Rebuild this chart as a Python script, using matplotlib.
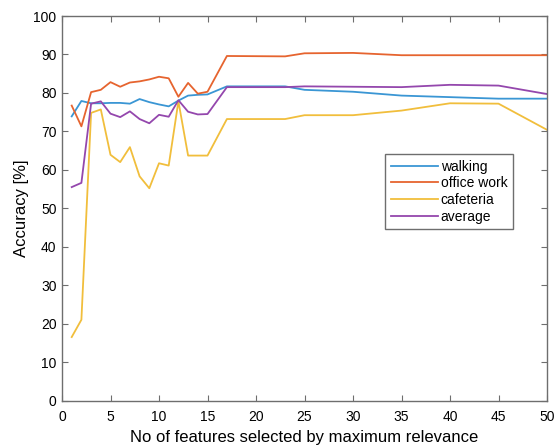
import matplotlib
matplotlib.use("Agg")
import matplotlib.pyplot as plt

plt.rcParams['font.family'] = ['Liberation Sans', 'DejaVu Sans']

# number of selected features
n_features = [1, 2, 3, 4, 5, 6, 7, 8, 9, 10, 11, 12, 13, 14, 15,
              17, 23, 25, 30, 35, 40, 45, 50]

walking = [73.9, 77.9, 77.3, 77.3, 77.4, 77.4, 77.2, 78.4, 77.6, 77.0, 76.5, 78.0,
           79.3, 79.5, 79.6, 81.7, 81.7, 80.8, 80.3, 79.3, 78.9, 78.5, 78.5]
office = [76.7, 71.3, 80.2, 80.8, 82.8, 81.6, 82.7, 83.0, 83.5, 84.2, 83.8, 79.0,
          82.6, 79.8, 80.3, 89.6, 89.5, 90.3, 90.4, 89.8, 89.8, 89.8, 89.8]
cafeteria = [16.5, 21.0, 74.8, 75.7, 63.9, 62.0, 65.9, 58.3, 55.2, 61.7, 61.1, 77.8,
             63.7, 63.7, 63.7, 73.2, 73.2, 74.2, 74.2, 75.4, 77.3, 77.2, 70.4]
average = [55.5, 56.6, 77.2, 77.8, 74.6, 73.7, 75.2, 73.2, 72.1, 74.3, 73.8, 78.1,
           75.1, 74.4, 74.5, 81.5, 81.5, 81.7, 81.6, 81.5, 82.1, 81.9, 79.7]

series = [("walking", walking, '#3a96d4'),
          ("office work", office, '#e6642f'),
          ("cafeteria", cafeteria, '#f1be3c'),
          ("average", average, '#9447ad')]

fig = plt.figure(figsize=(5.54, 4.46), dpi=100)
ax = fig.add_axes([62/554, 45.5/446, 485/554, 384.5/446])

for name, vals, col in series:
    ax.plot(n_features, vals, color=col, linewidth=1.3, label=name)

ax.set_xlim(0, 50)
ax.set_ylim(0, 100)
ax.set_xticks(range(0, 51, 5))
ax.set_yticks(range(0, 101, 10))
ax.tick_params(direction='in', top=True, right=True, length=4, width=0.8,
               color='#6e6e6e', labelsize=10, labelcolor='black')
ax.tick_params(axis='x', pad=7)
ax.tick_params(axis='y', pad=4)
for s in ax.spines.values():
    s.set_color('#6e6e6e')
    s.set_linewidth(1.0)

ax.set_xlabel("No of features selected by maximum relevance", fontsize=12, labelpad=4)
ax.set_ylabel("Accuracy [%]", fontsize=12, labelpad=3)

leg = ax.legend(loc='upper left', bbox_to_anchor=(385/554, 1 - 154/446),
                bbox_transform=fig.transFigure, fontsize=10, frameon=True,
                fancybox=False, framealpha=1, edgecolor='#6e6e6e',
                handlelength=3.4, handletextpad=0.2, borderpad=0.4,
                labelspacing=0.2, borderaxespad=0)
leg.get_frame().set_linewidth(1.0)

fig.savefig("out.png", dpi=100)
